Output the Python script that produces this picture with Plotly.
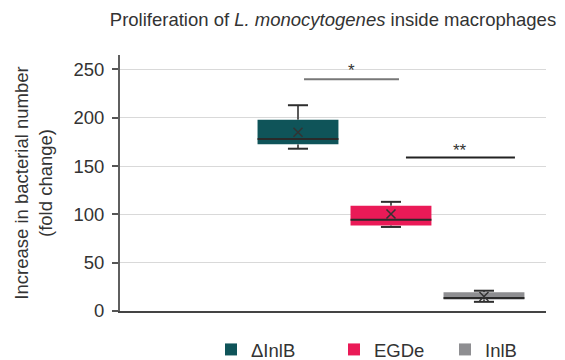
import plotly.graph_objects as go

# ---- data ----
strains = ["ΔInlB", "EGDe", "InlB"]
colors = ["#0f5459", "#ea1a57", "#8e8e91"]
q1_vals = [172.5, 88.5, 12.0]
median_vals = [178.0, 94.5, 13.5]
q3_vals = [198.0, 109.0, 19.5]
lower_vals = [168.0, 87.0, 9.5]
upper_vals = [213.0, 113.0, 21.0]
mean_vals = [185.0, 100.5, 15.0]
y_ticks = [0, 50, 100, 150, 200, 250]

# ---- layout constants ----
FONT = "Liberation Sans, Arial, sans-serif"
FS = 18.5
TXT = "#333333"
positions = [i + 1 for i in range(len(strains))]
BOX_W = 0.87
CAP_HALF = 0.108

fig = go.Figure()

legend_ids = ["legend", "legend2", "legend3"]
for i, name in enumerate(strains):
    fig.add_trace(go.Bar(
        x=[positions[i]], y=[q3_vals[i] - q1_vals[i]], base=[q1_vals[i]],
        width=BOX_W, marker=dict(color=colors[i], line=dict(width=0)),
        name=name, legend=legend_ids[i], hoverinfo="skip",
    ))

sx, sy = [], []
cx, cy = [], []
mx, my = [], []
for i in range(len(strains)):
    c = positions[i]
    sx += [c, c, None, c, c, None]
    sy += [q3_vals[i], upper_vals[i], None, q1_vals[i], lower_vals[i], None]
    cx += [c - CAP_HALF, c + CAP_HALF, None, c - CAP_HALF, c + CAP_HALF, None]
    cy += [upper_vals[i], upper_vals[i], None, lower_vals[i], lower_vals[i], None]
    mx += [c - BOX_W / 2, c + BOX_W / 2, None]
    my += [median_vals[i], median_vals[i], None]

fig.add_trace(go.Scatter(x=sx, y=sy, mode="lines", line=dict(color="#5a5a5a", width=2),
                         showlegend=False, hoverinfo="skip"))
fig.add_trace(go.Scatter(x=cx, y=cy, mode="lines", line=dict(color="#2e2e2e", width=2),
                         showlegend=False, hoverinfo="skip"))
fig.add_trace(go.Scatter(x=mx, y=my, mode="lines", line=dict(color="#2a2a2a", width=2),
                         showlegend=False, hoverinfo="skip"))
fig.add_trace(go.Scatter(x=positions, y=mean_vals, mode="markers",
                         marker=dict(symbol="x-thin", size=9, line=dict(color="#333333", width=1.5)),
                         showlegend=False, hoverinfo="skip"))

# significance brackets
sig = [
    dict(x0=1.065, x1=2.086, y=240, text="*", color="#777777", yshift=-3),
    dict(x0=2.161, x1=3.333, y=159, text="**", color="#222222", yshift=-5),
]
for s in sig:
    fig.add_shape(type="line", xref="x", yref="y", x0=s["x0"], x1=s["x1"], y0=s["y"], y1=s["y"],
                  line=dict(color=s["color"], width=2))
    fig.add_annotation(x=(s["x0"] + s["x1"]) / 2, y=s["y"], xref="x", yref="y",
                       text=s["text"], showarrow=False, yanchor="bottom", yshift=s["yshift"],
                       font=dict(family=FONT, size=17, color=TXT))

legend_x_px = [211, 334, 445]
leg_common = dict(orientation="h", xanchor="left", yanchor="middle", y=-0.152,
                  bgcolor="rgba(0,0,0,0)", font=dict(family=FONT, size=FS, color=TXT))
plot_l, plot_r = 120, 546
legend_layouts = {}
for lid, px in zip(legend_ids, legend_x_px):
    d = dict(leg_common)
    d["x"] = (px - plot_l) / (plot_r - plot_l)
    legend_layouts[lid] = d

fig.update_layout(
    width=565, height=360,
    margin=dict(l=120, r=19, t=55, b=49.3, autoexpand=False),
    paper_bgcolor="white", plot_bgcolor="white",
    font=dict(family=FONT, size=FS, color=TXT),
    title=dict(text="Proliferation of <i>L. monocytogenes</i> inside macrophages",
               x=0.5, xref="paper", xanchor="center", y=1 - 20 / 360, yref="container",
               yanchor="middle", font=dict(family=FONT, size=FS, color=TXT)),
    barmode="overlay",
    xaxis=dict(range=[-0.914, 3.667], showticklabels=False, ticks="", showgrid=False,
               zeroline=False, showline=True, linecolor="#444444", linewidth=2),
    yaxis=dict(range=[0, 265], tickvals=y_ticks, ticks="outside", ticklen=6, tickwidth=1.5,
               tickcolor="#555555", showline=True, linecolor="#5f5f5f", linewidth=2,
               gridcolor="#d9d9d9", gridwidth=1.3, zeroline=False,
               ticklabelstandoff=4,
               tickfont=dict(family=FONT, size=FS, color=TXT),
               title=dict(text="Increase in bacterial number<br>(fold change)", standoff=16,
                          font=dict(family=FONT, size=FS, color=TXT))),
    **legend_layouts,
)

fig.write_html("out.html")
